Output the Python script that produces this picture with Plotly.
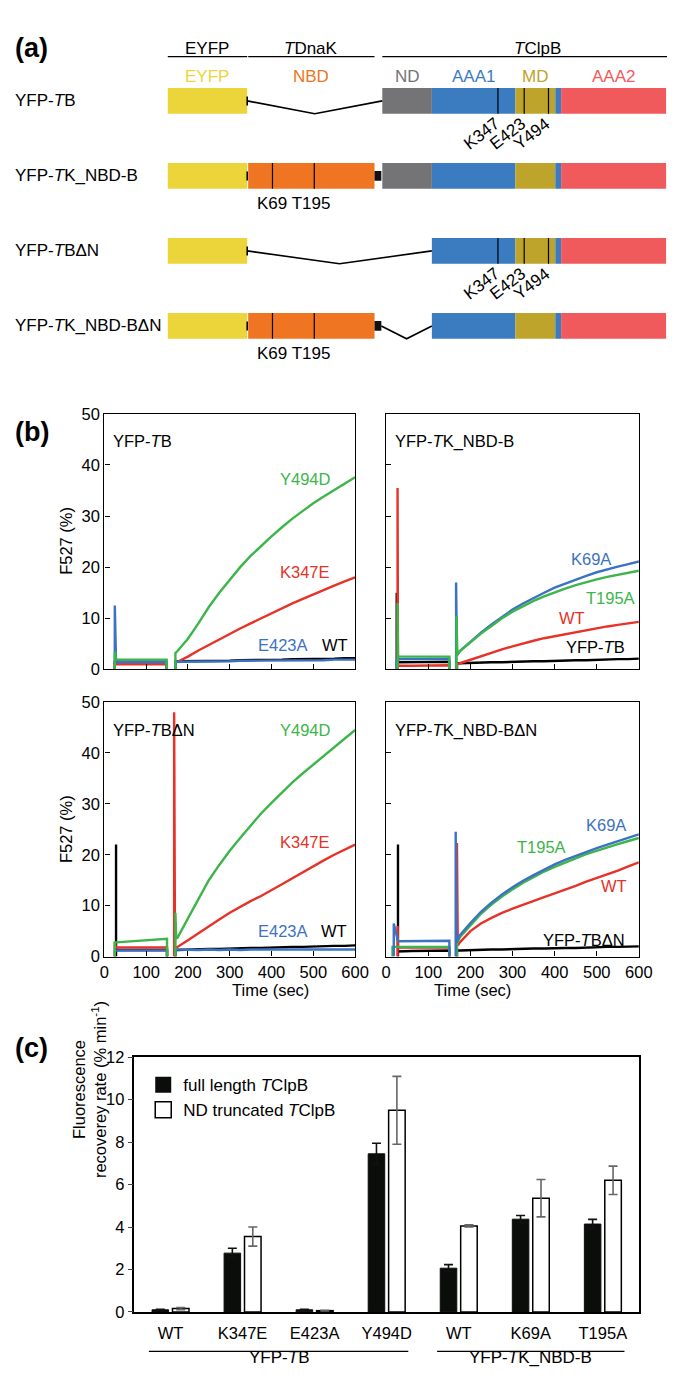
import plotly.graph_objects as go

W, H = 675, 1382
FONT = "Liberation Sans, Arial, sans-serif"

GREEN = "#3db54a"
RED = "#e63228"
BLUE = "#3c72c2"
BLACK = "#000000"

# ---------------- panel (a) data ----------------
constructs = ["YFP-<i>T</i>B", "YFP-<i>T</i>K_NBD-B", "YFP-<i>T</i>BΔN", "YFP-<i>T</i>K_NBD-BΔN"]
domain_names = ["EYFP", "NBD", "linker", "ND", "AAA1", "MD", "AAA1 tail", "AAA2"]
domain_start = [0, 83, 213, 221, 272, 358, 399, 405]
domain_end = [82, 213, 220, 272, 358, 399, 405, 513]
domain_colors = ["#ecd53b", "#f07522", "#111111", "#747376", "#3b7bbf", "#bea42b", "#3b7bbf", "#f05a5c"]
domain_present = [
    [1, 0, 0, 1, 1, 1, 1, 1],
    [1, 1, 1, 1, 1, 1, 1, 1],
    [1, 0, 0, 0, 1, 1, 1, 1],
    [1, 1, 1, 0, 1, 1, 1, 1],
]
labelled_domains = ["EYFP", "NBD", "ND", "AAA1", "MD", "AAA2"]
header_names = ["EYFP", "<i>T</i>DnaK", "<i>T</i>ClpB"]
header_start = [0, 83, 221]
header_end = [82, 213, 541]
gaps = [(0, 82, 221), (2, 82, 272), (3, 220, 272)]  # (row, from, to) deleted parts
mut_B_names = ["K347", "E423", "Y494"]
mut_B_pos = [340, 367, 392]
mut_K_names = ["K69", "T195"]
mut_K_pos = [108, 151]
rows_B = [0, 2]
rows_K = [1, 3]

# ---------------- panel (b) data ----------------
T1 = [28, 60, 100, 148]
T2 = [175, 200, 225, 250, 275, 300, 325, 350, 375, 400, 425, 450, 475, 500, 525, 550, 575, 600]

# each series: name, color, on1, spike1, flat1(at T1), end1, on2, spike2, start2, values(at T2)
panel_TB = [
    ("WT", BLACK, 25, None, [1.5, 1.5, 1.5, 1.5], 149, 170, None, 1.6,
     [1.6, 1.6, 1.6, 1.7, 1.7, 1.7, 1.8, 1.8, 1.8, 1.9, 1.9, 2.0, 2.0, 2.0, 2.1, 2.1, 2.2, 2.2]),
    ("K347E", RED, 25, None, [1.0, 1.0, 1.0, 1.0], 149, 170, None, 1.3,
     [1.5, 2.5, 3.7, 4.8, 5.9, 7.0, 8.0, 9.0, 10.0, 11.0, 12.0, 12.9, 13.8, 14.7, 15.6, 16.4, 17.2, 18.0]),
    ("E423A", BLUE, 25, 12.5, [1.4, 1.4, 1.4, 1.4], 149, 170, None, 1.5,
     [1.5, 1.5, 1.6, 1.6, 1.6, 1.6, 1.7, 1.7, 1.7, 1.7, 1.8, 1.8, 1.8, 1.8, 1.8, 1.9, 1.9, 1.9]),
    ("Y494D", GREEN, 25, 3.5, [1.9, 1.9, 1.9, 1.9], 149, 170, None, 3.2,
     [3.6, 6.0, 9.0, 12.2, 15.0, 17.6, 20.0, 22.2, 24.2, 26.0, 27.8, 29.5, 31.0, 32.5, 33.8, 35.1, 36.4, 37.6]),
]
panel_TK = [
    ("YFP-TB", BLACK, 25, 15.0, [1.4, 1.4, 1.5, 1.5], 150, 168, None, 1.2,
     [1.2, 1.3, 1.3, 1.4, 1.4, 1.5, 1.5, 1.6, 1.6, 1.7, 1.7, 1.8, 1.8, 1.9, 1.9, 2.0, 2.0, 2.1]),
    ("WT", RED, 27, 35.5, [0.7, 0.7, 0.8, 0.8], 150, 168, None, 1.0,
     [1.2, 1.9, 2.6, 3.3, 3.9, 4.5, 5.1, 5.6, 6.1, 6.5, 6.9, 7.3, 7.7, 8.0, 8.4, 8.7, 9.0, 9.3]),
    ("K69A", BLUE, 25, None, [2.0, 2.0, 2.1, 2.1], 150, 166, 17.0, 2.8,
     [3.6, 5.4, 7.2, 8.8, 10.3, 11.7, 12.9, 14.0, 15.0, 16.0, 16.8, 17.6, 18.3, 19.0, 19.6, 20.1, 20.6, 21.1]),
    ("T195A", GREEN, 27, 13.0, [2.5, 2.5, 2.5, 2.5], 150, 167, 10.5, 2.8,
     [3.6, 5.3, 7.0, 8.5, 10.0, 11.3, 12.4, 13.4, 14.3, 15.1, 15.8, 16.5, 17.1, 17.6, 18.1, 18.5, 18.9, 19.3]),
]
panel_TBdN = [
    ("WT", BLACK, 28, 22.0, [1.3, 1.3, 1.3, 1.3], 150, 170, None, 1.3,
     [1.3, 1.4, 1.4, 1.5, 1.5, 1.6, 1.6, 1.7, 1.7, 1.8, 1.8, 1.9, 1.9, 2.0, 2.0, 2.1, 2.1, 2.2]),
    ("E423A", BLUE, 25, None, [1.2, 1.2, 1.2, 1.2], 150, 170, None, 1.4,
     [1.4, 1.3, 1.3, 1.4, 1.3, 1.4, 1.3, 1.4, 1.4, 1.3, 1.4, 1.4, 1.3, 1.4, 1.4, 1.4, 1.4, 1.4]),
    ("K347E", RED, 25, 2.8, [1.8, 1.8, 1.8, 1.8], 150, 167, 48.0, 1.8,
     [1.9, 3.2, 4.6, 5.9, 7.3, 8.6, 9.8, 10.9, 11.9, 13.0, 14.2, 15.4, 16.6, 17.8, 18.9, 20.0, 21.0, 22.0]),
    ("Y494D", GREEN, 25, None, [2.8, 3.0, 3.2, 3.5], 150, 170, 8.6, 3.6,
     [3.7, 7.5, 11.3, 15.0, 18.0, 20.8, 23.3, 25.7, 28.1, 30.2, 32.3, 34.2, 36.0, 37.7, 39.4, 41.0, 42.7, 44.5]),
]
panel_TKdN = [
    ("YFP-TBdN", BLACK, 28, 22.0, [1.0, 1.1, 1.2, 1.2], 150, 168, None, 1.2,
     [1.2, 1.3, 1.3, 1.4, 1.4, 1.5, 1.5, 1.6, 1.6, 1.7, 1.7, 1.7, 1.8, 1.8, 1.9, 1.9, 2.0, 2.0]),
    ("WT", RED, 27, 6.0, [1.8, 1.8, 1.8, 1.8], 150, 168, 22.3, 2.2,
     [2.8, 5.0, 6.5, 7.6, 8.6, 9.4, 10.2, 11.0, 11.7, 12.4, 13.1, 13.9, 14.7, 15.4, 16.2, 16.9, 17.7, 18.5]),
    ("T195A", GREEN, 15, None, [1.9, 1.9, 1.9, 1.9], 150, 168, None, 2.6,
     [3.8, 6.2, 8.4, 10.2, 11.8, 13.2, 14.5, 15.6, 16.7, 17.6, 18.5, 19.3, 20.1, 20.8, 21.5, 22.1, 22.7, 23.3]),
    ("K69A", BLUE, 18, 6.5, [3.0, 3.0, 3.0, 3.1], 150, 165, 24.5, 2.8,
     [4.2, 6.6, 8.8, 10.6, 12.2, 13.6, 14.9, 16.0, 17.1, 18.1, 19.0, 19.8, 20.6, 21.3, 22.0, 22.7, 23.4, 24.0]),
]
panel_titles = ["YFP-<i>T</i>B", "YFP-<i>T</i>K_NBD-B", "YFP-<i>T</i>BΔN", "YFP-<i>T</i>K_NBD-BΔN"]
# curve labels: text, time, value, color
labels_TB = [("Y494D", 481, 37.2, GREEN), ("K347E", 481, 19.0, RED), ("E423A", 428, 4.7, BLUE), ("WT", 551, 4.7, BLACK)]
labels_TK = [("K69A", 486, 21.6, BLUE), ("T195A", 533, 14.0, GREEN), ("WT", 441, 10.1, RED), ("YFP-<i>T</i>B", 498, 4.4, BLACK)]
labels_TBdN = [("Y494D", 481, 44.4, GREEN), ("K347E", 481, 22.5, RED), ("E423A", 428, 5.0, BLUE), ("WT", 550, 5.0, BLACK)]
labels_TKdN = [("K69A", 521, 25.9, BLUE), ("T195A", 368, 21.5, GREEN), ("WT", 540, 13.8, RED), ("YFP-<i>T</i>BΔN", 470, 3.2, BLACK)]

# ---------------- panel (c) data ----------------
mutants = ["WT", "K347E", "E423A", "Y494D", "WT", "K69A", "T195A"]
full_rate = [0.10, 2.77, 0.10, 7.45, 2.06, 4.37, 4.14]
full_err = [0.02, 0.23, 0.02, 0.50, 0.17, 0.17, 0.22]
trunc_rate = [0.16, 3.55, 0.06, 9.50, 4.05, 5.36, 6.20]
trunc_err = [0.05, 0.45, 0.02, 1.60, 0.05, 0.88, 0.67]
groups = ["YFP-<i>T</i>B", "YFP-<i>T</i>K_NBD-B"]
group_members = [[0, 1, 2, 3], [4, 5, 6]]


def py(px):
    return 1 - px / H


def pxx(px):
    return px / W


fig = go.Figure()

# ---------- (a) ----------
BAR_H = 0.342
for j, name in enumerate(domain_names):
    rows = [r for r in range(4) if domain_present[r][j]]
    bw = 0.13 if name == "linker" else BAR_H
    fig.add_trace(go.Bar(
        orientation="h", y=rows, x=[domain_end[j] - domain_start[j]] * len(rows),
        base=[domain_start[j]] * len(rows), width=bw, offset=-bw / 2,
        marker=dict(color=domain_colors[j], line=dict(width=0)),
        xaxis="x6", yaxis="y6", showlegend=False, hoverinfo="skip"))

# deletion connectors
cx, cy = [], []
for r, a, b in gaps:
    cx += [a, (a + b) / 2, b, None]
    cy += [r, r + BAR_H / 2, r, None]
for r in range(4):
    cx += [domain_end[0], domain_end[0], None]
    cy += [r - 0.06, r + 0.06, None]
fig.add_trace(go.Scatter(x=cx, y=cy, mode="lines", line=dict(color="black", width=1.6),
                         xaxis="x6", yaxis="y6", showlegend=False, hoverinfo="skip"))
# mutation marks
mx, my = [], []
for r in rows_B:
    for p in mut_B_pos:
        mx += [p, p, None]
        my += [r - BAR_H / 2, r + BAR_H / 2, None]
for r in rows_K:
    for p in mut_K_pos:
        mx += [p, p, None]
        my += [r - BAR_H / 2, r + BAR_H / 2, None]
fig.add_trace(go.Scatter(x=mx, y=my, mode="lines", line=dict(color="black", width=1.2),
                         xaxis="x6", yaxis="y6", showlegend=False, hoverinfo="skip"))
# header underlines
hx, hy = [], []
for a, b in zip(header_start, header_end):
    hx += [a, b, None]
    hy += [-0.59, -0.59, None]
fig.add_trace(go.Scatter(x=hx, y=hy, mode="lines", line=dict(color="black", width=1.2),
                         xaxis="x6", yaxis="y6", showlegend=False, hoverinfo="skip", cliponaxis=False))

ann = []
for name, a, b in zip(header_names, header_start, header_end):
    ann.append(dict(text=name, x=(a + b) / 2, y=-0.70, xref="x6", yref="y6", showarrow=False,
                    font=dict(size=17, color="black")))
for name in labelled_domains:
    j = domain_names.index(name)
    ann.append(dict(text=name, x=(domain_start[j] + domain_end[j]) / 2, y=-0.33, xref="x6", yref="y6",
                    showarrow=False, font=dict(size=17, color=domain_colors[j])))
for r, name in enumerate(constructs):
    ann.append(dict(text=name, x=0, xanchor="left", xref="paper", y=r, yref="y6", showarrow=False,
                    font=dict(size=17, color="black")))
for r in rows_B:
    for n, p in zip(mut_B_names, mut_B_pos):
        ann.append(dict(text=n, x=p, y=r + BAR_H / 2, xref="x6", yref="y6", showarrow=False,
                        textangle=-38, xshift=-16, yshift=-20, font=dict(size=17, color="black")))
for r in rows_K:
    ann.append(dict(text=" ".join(mut_K_names), x=sum(mut_K_pos) / len(mut_K_pos), y=r + BAR_H / 2,
                    xref="x6", yref="y6", showarrow=False, yshift=-15, font=dict(size=17, color="black")))

# ---------- (b) ----------
def series_xy(s):
    name, color, on1, sp1, flat1, end1, on2, sp2, st2, vals = s
    x = [on1, on1] + T1 + [end1, end1, None]
    y = [0, sp1 if sp1 is not None else flat1[0]] + flat1 + [flat1[-1], 0, None]
    if sp2 is not None:
        x += [on2, on2, on2 + 2]
        y += [0, sp2, st2]
    else:
        x += [on2, on2]
        y += [0, st2]
    x += T2
    y += vals
    return x, y


panels = [panel_TB, panel_TK, panel_TBdN, panel_TKdN]
panel_labels = [labels_TB, labels_TK, labels_TBdN, labels_TKdN]
axes = [("x", "y"), ("x2", "y2"), ("x3", "y3"), ("x4", "y4")]
for data, (xa, ya), labs, title in zip(panels, axes, panel_labels, panel_titles):
    for s in data:
        x, y = series_xy(s)
        fig.add_trace(go.Scatter(x=x, y=y, mode="lines", line=dict(color=s[1], width=2.4),
                                 xaxis=xa, yaxis=ya, showlegend=False, hoverinfo="skip"))
    for t, xx, yy, c in labs:
        ann.append(dict(text=t, x=xx, y=yy, xref=xa, yref=ya, showarrow=False,
                        font=dict(size=16.5, color=c)))
    ann.append(dict(text=title, x=0.028, xanchor="left", y=0.935, xref=xa + " domain", yref=ya + " domain",
                    showarrow=False, font=dict(size=16.5, color="black")))

for yc in [531, 823]:
    ann.append(dict(text="F527 (%)", x=pxx(43), y=py(yc), xref="paper", yref="paper", showarrow=False,
                    textangle=-90, font=dict(size=16.5)))
for xc in [223, 514]:
    ann.append(dict(text="Time (sec)", x=pxx(xc), y=py(997), xref="paper", yref="paper", showarrow=False,
                    font=dict(size=16.5)))

# ---------- (c) ----------
xs = list(range(len(mutants)))
fig.add_trace(go.Bar(x=xs, y=full_rate, name="full length <i>T</i>ClpB", xaxis="x5", yaxis="y5",
                     marker=dict(color="#0b0d0b", line=dict(color="#0b0d0b", width=1)),
                     error_y=dict(type="data", array=full_err, color="#111111", thickness=1.6, width=4.5),
                     showlegend=False, hoverinfo="skip"))
fig.add_trace(go.Bar(x=xs, y=trunc_rate, name="ND truncated <i>T</i>ClpB", xaxis="x5", yaxis="y5",
                     marker=dict(color="white", line=dict(color="black", width=1.5)),
                     error_y=dict(type="data", array=trunc_err, color="#666666", thickness=1.6, width=4.5),
                     showlegend=False, hoverinfo="skip"))
fig.add_trace(go.Scatter(x=[None], y=[None], mode="markers", name="full length <i>T</i>ClpB",
                         marker=dict(symbol="square", size=16, color="#0b0d0b"), xaxis="x5", yaxis="y5"))
fig.add_trace(go.Scatter(x=[None], y=[None], mode="markers", name="ND truncated <i>T</i>ClpB",
                         marker=dict(symbol="square", size=16, color="white", line=dict(color="black", width=1.5)),
                         xaxis="x5", yaxis="y5"))

shapes = []
for g, mem in zip(groups, group_members):
    a, b = min(mem) - 0.3, max(mem) + 0.3
    shapes.append(dict(type="line", xref="x5", yref="paper", x0=a, x1=b, y0=py(1352), y1=py(1352),
                       line=dict(color="black", width=1.2)))
    ann.append(dict(text=g, x=(a + b) / 2, y=py(1370), xref="x5", yref="paper", showarrow=False,
                    font=dict(size=17)))
ann.append(dict(text="Fluorescence<br>recoverey rate (% min<sup>-1</sup>)", x=pxx(56), y=py(1178),
                xref="paper", yref="paper", showarrow=False, textangle=-90, font=dict(size=16.5)))

for lab, yc in [("(a)", 14), ("(b)", 403), ("(c)", 1062)]:
    ann.append(dict(text="<b>" + lab + "</b>", x=0, xanchor="left", y=py(yc), xref="paper", yref="paper",
                    showarrow=False, font=dict(size=27, color="black")))

# ---------- layout ----------
bax = dict(showline=True, mirror=True, linecolor="black", linewidth=1.3, ticks="inside", ticklen=5,
           tickwidth=1.2, tickcolor="black", showgrid=False, zeroline=False, tickfont=dict(size=16.5))
xl = [94, 352]
xr = [384, 644]
yt = [py(661), py(402)]
yb = [py(952), py(694)]
fig.update_layout(
    width=W, height=H, margin=dict(l=0, r=0, t=0, b=0),
    paper_bgcolor="white", plot_bgcolor="white",
    font=dict(family=FONT, size=16, color="black"),
    barmode="group", bargap=0.433, bargroupgap=0.19,
    xaxis=dict(bax, domain=[pxx(xl[0]), pxx(xl[1])], range=[0, 600], dtick=100, anchor="y", showticklabels=False),
    yaxis=dict(bax, domain=yt, range=[0, 50], dtick=10, anchor="x"),
    xaxis2=dict(bax, domain=[pxx(xr[0]), pxx(xr[1])], range=[0, 600], dtick=100, anchor="y2", showticklabels=False),
    yaxis2=dict(bax, domain=yt, range=[0, 50], dtick=10, anchor="x2", showticklabels=False),
    xaxis3=dict(bax, domain=[pxx(xl[0]), pxx(xl[1])], range=[0, 600], dtick=100, anchor="y3"),
    yaxis3=dict(bax, domain=yb, range=[0, 50], dtick=10, anchor="x3"),
    xaxis4=dict(bax, domain=[pxx(xr[0]), pxx(xr[1])], range=[0, 600], dtick=100, anchor="y4"),
    yaxis4=dict(bax, domain=yb, range=[0, 50], dtick=10, anchor="x4", showticklabels=False),
    xaxis5=dict(domain=[pxx(125), pxx(644)], range=[-0.5, 6.5], tickvals=xs, ticktext=mutants, anchor="y5",
                showline=True, mirror=True, linecolor="black", linewidth=1.5, ticks="outside", ticklen=6,
                tickcolor="rgba(0,0,0,0)", showgrid=False, zeroline=False, tickfont=dict(size=16.5)),
    yaxis5=dict(domain=[py(1312), py(1054)], range=[0, 12], dtick=2, anchor="x5",
                showline=True, mirror=True, linecolor="black", linewidth=1.5, ticks="outside", ticklen=5,
                tickwidth=1.2, showgrid=False, zeroline=False, tickfont=dict(size=16.5)),
    xaxis6=dict(domain=[pxx(159), 1.0], range=[0, 516], visible=False, anchor="y6"),
    yaxis6=dict(domain=[py(351), py(9)], range=[3.5, -1.0], visible=False, anchor="x6"),
    showlegend=True,
    legend=dict(x=pxx(134), y=py(1064), xanchor="left", yanchor="top", font=dict(size=17),
                bgcolor="rgba(0,0,0,0)", itemsizing="trace", tracegroupgap=0),
    annotations=ann, shapes=shapes,
)

fig.write_html("out.html")
